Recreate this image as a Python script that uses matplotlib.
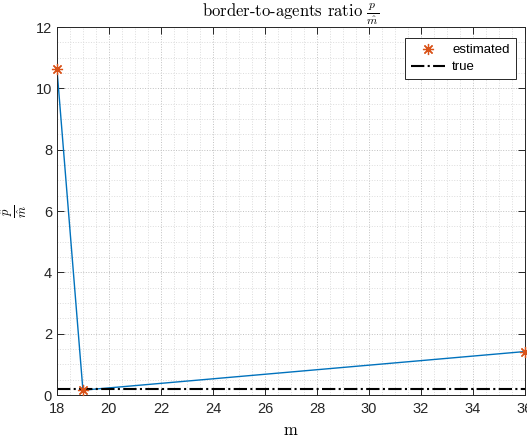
import matplotlib
matplotlib.use("Agg")
import matplotlib.pyplot as plt
from matplotlib.ticker import MultipleLocator

plt.rcParams["mathtext.fontset"] = "cm"
plt.rcParams["font.family"] = ["Liberation Sans", "DejaVu Sans"]

m_values = [18, 19, 36]
ratio_estimated = [10.65, 0.16, 1.42]
ratio_true = 0.2
x_ticks = [18, 20, 22, 24, 26, 28, 30, 32, 34, 36]
y_ticks = [0, 2, 4, 6, 8, 10, 12]

blue = "#0072BD"
orange = "#D95319"
axis_color = "#262626"
asterisk = (8, 2, 0)

fig = plt.figure(figsize=(5.27, 4.38), dpi=100)
ax = fig.add_axes([0.108, 0.098, 0.888, 0.840])

ax.plot(m_values, ratio_estimated, "-", color=blue, lw=1.0)
ax.plot(m_values, ratio_estimated, marker=asterisk, color=orange, ms=8, mew=0.9,
        ls="none", label="estimated", clip_on=False, zorder=5)
ax.axhline(ratio_true, color="black", ls="-.", lw=1.5, label="true")

ax.set_xlim(18, 36)
ax.set_ylim(0, 12)
ax.set_xticks(x_ticks)
ax.set_yticks(y_ticks)
ax.xaxis.set_minor_locator(MultipleLocator(0.5))
ax.yaxis.set_minor_locator(MultipleLocator(0.5))
ax.grid(True, which="major", ls=":", color="#c0c0c0", lw=0.7)
ax.grid(True, which="minor", ls=":", color="#dcdcdc", lw=0.7)
ax.set_axisbelow(True)

ax.tick_params(which="major", direction="in", length=5, width=0.7,
               top=True, right=True, colors=axis_color, labelsize=10.5)
ax.tick_params(axis="x", which="major", pad=5)
ax.tick_params(which="minor", length=0, top=True, right=True)
for s in ax.spines.values():
    s.set_color(axis_color)
    s.set_linewidth(0.7)

ax.set_title(r"border-to-agents ratio $\frac{\hat{p}}{\hat{m}}$",
             family="cmr10", fontsize=12, color="black", pad=4)
ax.set_xlabel("m", family="cmr10", fontsize=12, color="black", labelpad=5)
ax.set_ylabel(r"$\frac{\hat{p}}{\hat{m}}$", fontsize=13, color="black", labelpad=5)

leg = ax.legend(loc="upper right", bbox_to_anchor=(0.98, 0.97), fontsize=9.5,
                fancybox=False, framealpha=1, edgecolor=axis_color,
                handlelength=2.6, borderpad=0.45, labelspacing=0.35,
                handletextpad=0.5, borderaxespad=0)
leg.get_frame().set_linewidth(0.7)

fig.savefig("out.png", dpi=100)
